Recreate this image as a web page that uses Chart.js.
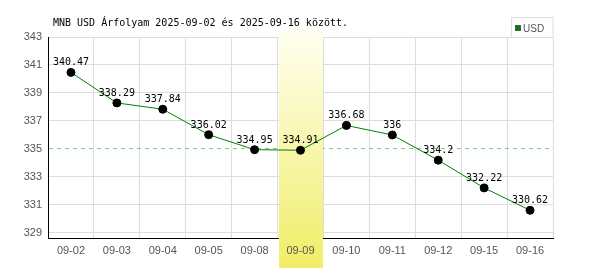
<!DOCTYPE html>
<html>
<head>
<meta charset="utf-8">
<script src="https://cdn.jsdelivr.net/npm/chart.js@4"></script>
<style>
  html, body { margin: 0; padding: 0; background: #fff; }
  #wrap { width: 600px; height: 270px; }
</style>
</head>
<body>
<div id="wrap"><canvas id="rateChart" width="600" height="270"></canvas></div>
<script>
const days = ["09-02", "09-03", "09-04", "09-05", "09-08", "09-09", "09-10", "09-11", "09-12", "09-15", "09-16"];
const rates = [340.47, 338.29, 337.84, 336.02, 334.95, 334.91, 336.68, 336, 334.2, 332.22, 330.62];
const yTicks = [329, 331, 333, 335, 337, 339, 341, 343];
const refLine = 335;          // dashed green line
const highlightIndex = 5;     // 09-09 column
const title = "MNB USD Árfolyam 2025-09-02 és 2025-09-16 között.";
const seriesName = "USD";

const monoFont = "10px 'DejaVu Sans Mono', monospace";

// yellow column, dashed reference line under the data
const bandPlugin = {
  id: "band",
  beforeDatasetsDraw(chart) {
    const ctx = chart.ctx;
    const x = chart.scales.x;
    const y = chart.scales.y;
    const area = chart.chartArea;

    ctx.save();
    // same pixel snapping as the grid lines
    const yy = Math.round(y.getPixelForValue(refLine) - 0.5) + 0.5;
    ctx.strokeStyle = "#fff";
    ctx.lineWidth = 1;
    ctx.beginPath();
    ctx.moveTo(area.left + 1, yy);
    ctx.lineTo(area.right - 1, yy);
    ctx.stroke();
    ctx.strokeStyle = "#7fcc7f";
    ctx.setLineDash([4, 4]);
    ctx.beginPath();
    ctx.moveTo(area.left + 1, yy);
    ctx.lineTo(area.right, yy);
    ctx.stroke();
    ctx.setLineDash([]);

    const half = (x.getPixelForValue(1) - x.getPixelForValue(0)) / 2;
    const cx = x.getPixelForValue(highlightIndex);
    const left = Math.round(cx - half) + 1;
    const right = Math.round(cx + half);
    const grad = ctx.createLinearGradient(0, 29, 0, 268);
    grad.addColorStop(0, "#fffff2");
    grad.addColorStop(1, "#f0ee66");
    ctx.fillStyle = grad;
    ctx.fillRect(left, 29, right - left, 239);
    ctx.restore();
  }
};

// value labels over points, title and legend box
const labelPlugin = {
  id: "labels",
  afterDatasetsDraw(chart) {
    const ctx = chart.ctx;
    const meta = chart.getDatasetMeta(0);
    ctx.save();
    ctx.font = monoFont;
    ctx.fillStyle = "#000";
    ctx.textAlign = "center";
    ctx.textBaseline = "alphabetic";
    meta.data.forEach((pt, i) => {
      ctx.fillText(String(rates[i]), pt.x, pt.y - 7);
    });
    ctx.restore();
  },
  afterDraw(chart) {
    const ctx = chart.ctx;
    const area = chart.chartArea;
    ctx.save();
    ctx.font = monoFont;
    ctx.fillStyle = "#000";
    ctx.textAlign = "left";
    ctx.textBaseline = "alphabetic";
    ctx.fillText(title, 53, 26);

    // legend
    ctx.strokeStyle = "#ddd";
    ctx.lineWidth = 1;
    ctx.strokeRect(511.5, 17.5, area.right - 511.5, 20);
    ctx.fillStyle = "#008000";
    ctx.fillRect(515, 25, 6, 6);
    ctx.strokeStyle = "#555";
    ctx.strokeRect(515.5, 25.5, 5, 5);
    ctx.fillStyle = "#555";
    ctx.font = "10px 'Liberation Sans', Arial, sans-serif";
    ctx.fillText(seriesName, 523, 32);
    ctx.restore();
  }
};

new Chart(document.getElementById("rateChart"), {
  type: "line",
  data: {
    labels: days,
    datasets: [{
      label: seriesName,
      data: rates,
      borderColor: "#008000",
      borderWidth: 1,
      pointRadius: 4,
      pointHoverRadius: 4,
      pointBackgroundColor: "#000",
      pointBorderColor: "#000",
      pointBorderWidth: 1,
      tension: 0,
      fill: false
    }]
  },
  options: {
    responsive: false,
    animation: false,
    events: [],
    layout: { padding: { top: 37, right: 47, left: 0, bottom: 0 } },
    plugins: {
      legend: { display: false },
      tooltip: { enabled: false }
    },
    scales: {
      x: {
        offset: true,
        grid: { offset: true, color: "#ddd", drawTicks: false },
        border: { color: "#000", width: 1 },
        ticks: {
          z: 1,
          padding: 6,
          color: "#555",
          font: { family: "'Liberation Sans', Arial, sans-serif", size: 11 },
          maxRotation: 0,
          autoSkip: false
        },
        afterFit(scale) { scale.height = 32; }
      },
      y: {
        min: 328.64,
        max: 343,
        grid: { color: "#ddd", drawTicks: false },
        border: { color: "#000", width: 1 },
        afterBuildTicks(scale) { scale.ticks = yTicks.map(v => ({ value: v })); },
        ticks: {
          padding: 6,
          color: "#555",
          font: { family: "'Liberation Sans', Arial, sans-serif", size: 11 },
          callback: v => String(v)
        },
        afterFit(scale) { scale.width = 48; }
      }
    }
  },
  plugins: [bandPlugin, labelPlugin]
});
</script>
</body>
</html>
